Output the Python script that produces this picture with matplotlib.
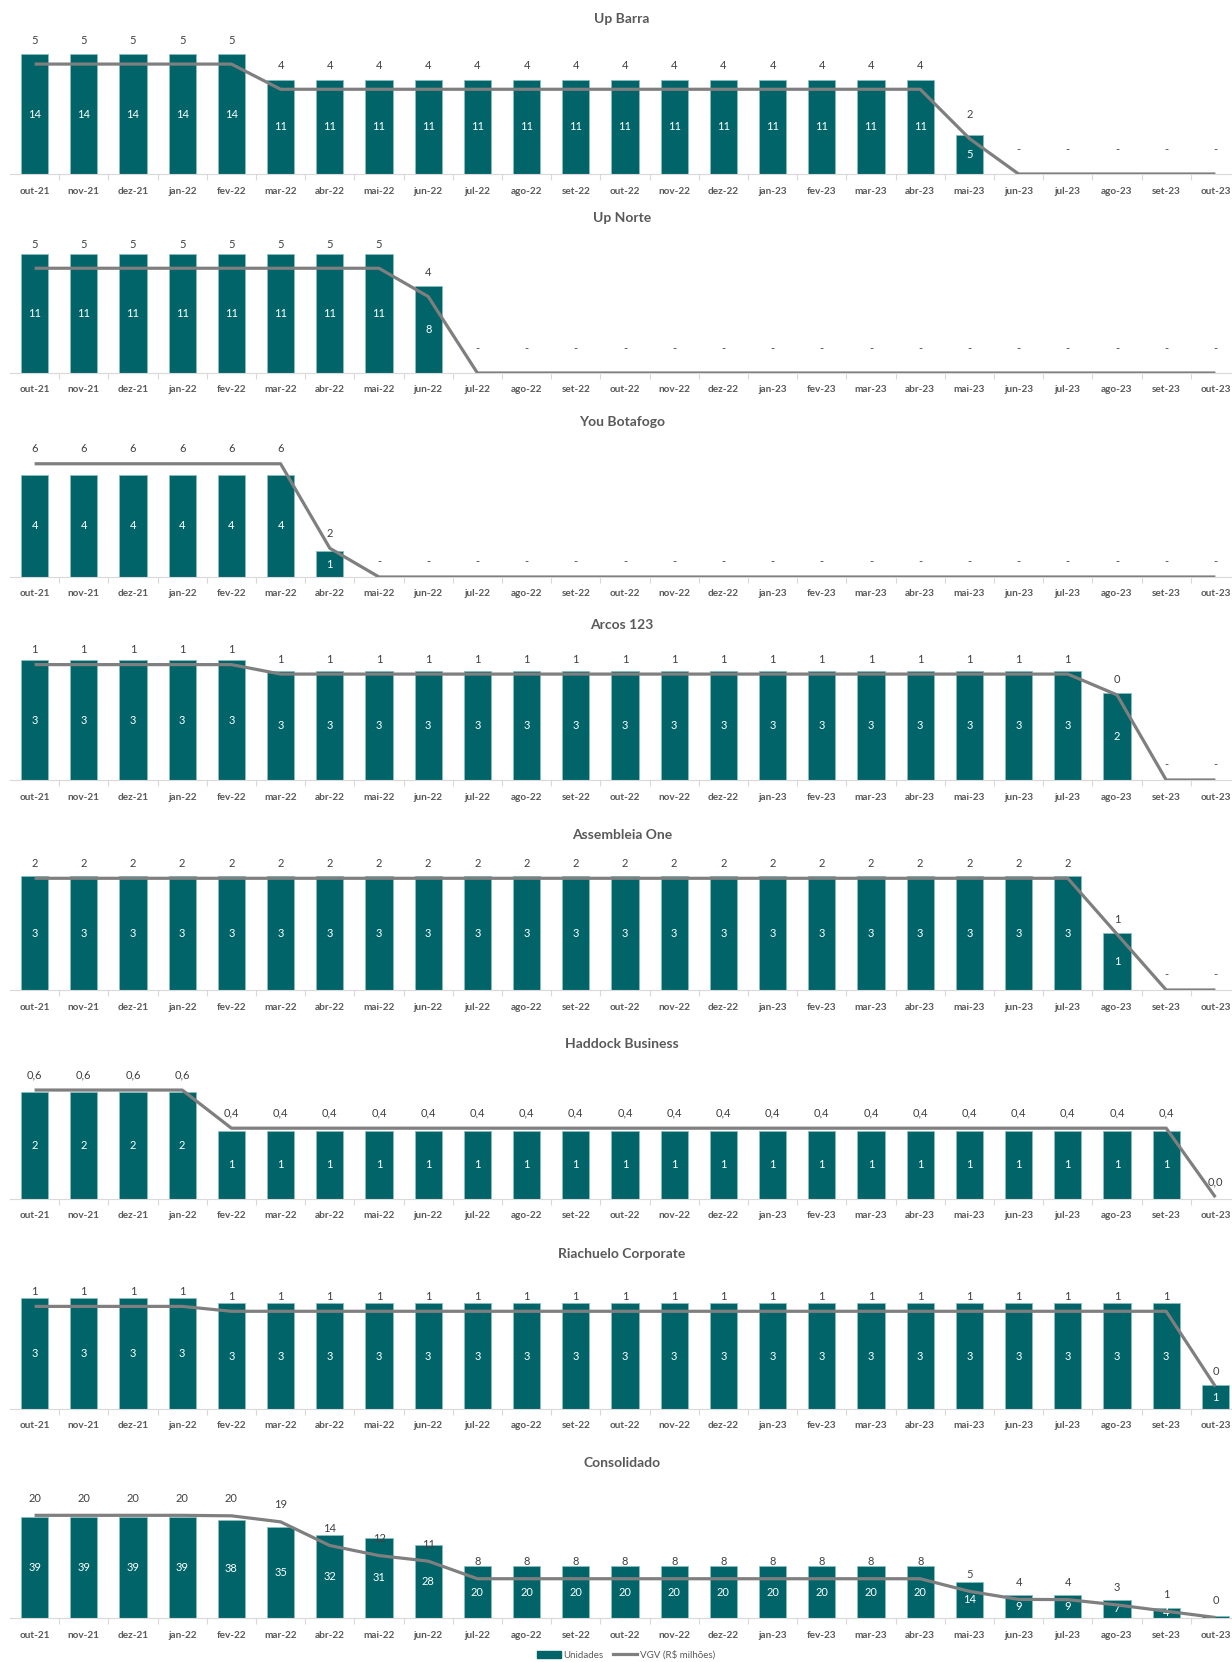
import matplotlib.pyplot as plt
from matplotlib.lines import Line2D
from matplotlib.patches import Patch

plt.rcParams["font.family"] = ["Lato", "DejaVu Sans"]

months = ["out-21", "nov-21", "dez-21", "jan-22", "fev-22", "mar-22", "abr-22", "mai-22", "jun-22",
          "jul-22", "ago-22", "set-22", "out-22", "nov-22", "dez-22", "jan-23", "fev-23", "mar-23",
          "abr-23", "mai-23", "jun-23", "jul-23", "ago-23", "set-23", "out-23"]

# unidades em estoque (barras) e VGV em R$ milhoes (linha)
up_barra_un = [14, 14, 14, 14, 14, 11, 11, 11, 11, 11, 11, 11, 11, 11, 11, 11, 11, 11, 11, 4.6, 0, 0, 0, 0, 0]
up_barra_vgv = [4.8, 4.8, 4.8, 4.8, 4.8, 3.7, 3.7, 3.7, 3.7, 3.7, 3.7, 3.7, 3.7, 3.7, 3.7, 3.7, 3.7, 3.7, 3.7,
                1.55, 0, 0, 0, 0, 0]

up_norte_un = [11, 11, 11, 11, 11, 11, 11, 11, 8, 0, 0, 0, 0, 0, 0, 0, 0, 0, 0, 0, 0, 0, 0, 0, 0]
up_norte_vgv = [5.0, 5.0, 5.0, 5.0, 5.0, 5.0, 5.0, 5.0, 3.65, 0, 0, 0, 0, 0, 0, 0, 0, 0, 0, 0, 0, 0, 0, 0, 0]

you_un = [4, 4, 4, 4, 4, 4, 1, 0, 0, 0, 0, 0, 0, 0, 0, 0, 0, 0, 0, 0, 0, 0, 0, 0, 0]
you_vgv = [6.1, 6.1, 6.1, 6.1, 6.1, 6.1, 1.55, 0, 0, 0, 0, 0, 0, 0, 0, 0, 0, 0, 0, 0, 0, 0, 0, 0, 0]

arcos_un = [3.3, 3.3, 3.3, 3.3, 3.3, 3.0, 3.0, 3.0, 3.0, 3.0, 3.0, 3.0, 3.0, 3.0, 3.0, 3.0, 3.0, 3.0, 3.0,
            3.0, 3.0, 3.0, 2.4, 0, 0]
arcos_vgv = [0.61, 0.61, 0.61, 0.61, 0.61, 0.56, 0.56, 0.56, 0.56, 0.56, 0.56, 0.56, 0.56, 0.56, 0.56, 0.56,
             0.56, 0.56, 0.56, 0.56, 0.56, 0.56, 0.45, 0, 0]

assembleia_un = [2.9, 2.9, 2.9, 2.9, 2.9, 2.9, 2.9, 2.9, 2.9, 2.9, 2.9, 2.9, 2.9, 2.9, 2.9, 2.9, 2.9, 2.9,
                 2.9, 2.9, 2.9, 2.9, 1.45, 0, 0]
assembleia_vgv = [1.8, 1.8, 1.8, 1.8, 1.8, 1.8, 1.8, 1.8, 1.8, 1.8, 1.8, 1.8, 1.8, 1.8, 1.8, 1.8, 1.8, 1.8,
                  1.8, 1.8, 1.8, 1.8, 0.9, 0, 0]

haddock_un = [2, 2, 2, 2, 1.27, 1.27, 1.27, 1.27, 1.27, 1.27, 1.27, 1.27, 1.27, 1.27, 1.27, 1.27, 1.27,
              1.27, 1.27, 1.27, 1.27, 1.27, 1.27, 1.27, 0]
haddock_vgv = [0.6, 0.6, 0.6, 0.6, 0.39, 0.39, 0.39, 0.39, 0.39, 0.39, 0.39, 0.39, 0.39, 0.39, 0.39, 0.39,
               0.39, 0.39, 0.39, 0.39, 0.39, 0.39, 0.39, 0.39, 0.01]

riachuelo_un = [3.14, 3.14, 3.14, 3.14, 3.0, 3.0, 3.0, 3.0, 3.0, 3.0, 3.0, 3.0, 3.0, 3.0, 3.0, 3.0, 3.0,
                3.0, 3.0, 3.0, 3.0, 3.0, 3.0, 3.0, 0.68]
riachuelo_vgv = [1.05, 1.05, 1.05, 1.05, 1.0, 1.0, 1.0, 1.0, 1.0, 1.0, 1.0, 1.0, 1.0, 1.0, 1.0, 1.0, 1.0,
                 1.0, 1.0, 1.0, 1.0, 1.0, 1.0, 1.0, 0.23]

consol_un = [39, 39, 39, 39, 38, 35, 32, 31, 28, 20, 20, 20, 20, 20, 20, 20, 20, 20, 20, 14, 9, 9, 7, 4, 0.6]
consol_vgv = [20.4, 20.4, 20.4, 20.4, 20.3, 19.1, 14.4, 12.4, 11.3, 7.8, 7.8, 7.8, 7.8, 7.8, 7.8, 7.8, 7.8,
              7.8, 7.8, 5.3, 3.7, 3.65, 2.6, 1.35, 0.1]

# titulo, unidades, vgv, casas decimais do VGV
panels = [
    ("Up Barra", up_barra_un, up_barra_vgv, 0),
    ("Up Norte", up_norte_un, up_norte_vgv, 0),
    ("You Botafogo", you_un, you_vgv, 0),
    ("Arcos 123", arcos_un, arcos_vgv, 0),
    ("Assembleia One", assembleia_un, assembleia_vgv, 0),
    ("Haddock Business", haddock_un, haddock_vgv, 1),
    ("Riachuelo Corporate", riachuelo_un, riachuelo_vgv, 0),
    ("Consolidado", consol_un, consol_vgv, 0),
]

# layout (pixels): baseline, topo das barras, topo da linha, distancia do rotulo
baselines = [174, 373, 577, 780, 990, 1199, 1409, 1618]
bar_tops = [17.5, 13.86, 5.86, 4.13, 3.816, 2.796, 4.26, 57.9]
line_tops = [6.55, 7.16, 8.08, 0.793, 2.417, 0.826, 1.535, 29.8]
label_pads = [24, 24, 15, 15, 15, 15, 15, 17]

W, H = 1232, 1662
AX_H = 150
teal = "#006468"
gray_line = "#7f7f7f"
txt_gray = "#595959"

fig = plt.figure(figsize=(W / 100, H / 100), dpi=100)
x = list(range(len(months)))

for i, (title, units, vgv, dec) in enumerate(panels):
    base = baselines[i]
    ax = fig.add_axes([10 / W, 1 - base / H, 1230 / W, AX_H / H])
    ax.set_xlim(-0.5, 24.5)
    ax.set_ylim(0, bar_tops[i])

    xs = [k for k in x if units[k] > 0]
    hs = [units[k] for k in xs]
    ax.bar(xs, hs, width=0.55, color=teal, edgecolor="#8cbcbe", linewidth=0.6, zorder=2)
    for k in xs:
        if units[k] / bar_tops[i] < 0.03:
            continue
        ax.text(k, units[k] / 2, f"{units[k]:.0f}", ha="center", va="center",
                color="white", fontsize=8, zorder=3)

    for s in ["left", "right", "top"]:
        ax.spines[s].set_visible(False)
    ax.spines["bottom"].set_color("#d9d9d9")
    ax.set_yticks([])
    ax.set_xticks(x)
    ax.set_xticklabels(months, fontsize=7.2, fontweight="bold", color=txt_gray)
    ax.tick_params(axis="x", length=0, pad=9)
    ax.set_xticks([k + 0.5 for k in x], minor=True)
    ax.tick_params(axis="x", which="minor", length=4, color="#d9d9d9", width=0.8)

    ax2 = ax.twinx()
    ax2.set_ylim(0, line_tops[i])
    ax2.plot(x, vgv, color=gray_line, lw=2.3, solid_capstyle="butt", zorder=4)
    ax2.set_yticks([])
    for s in ["left", "right", "top", "bottom"]:
        ax2.spines[s].set_visible(False)
    for k in x:
        v = vgv[k]
        lab = "-" if v == 0 else f"{v:.{dec}f}".replace(".", ",")
        ax2.annotate(lab, (k, v), xytext=(0, label_pads[i] * 0.72), textcoords="offset points",
                     ha="center", va="center", fontsize=8, color="#404040", annotation_clip=False)

    fig.text(622 / W, 1 - (base - 155) / H, title, ha="center", va="center",
             fontsize=10, fontweight="bold", color=txt_gray)

handles = [Patch(facecolor=teal, edgecolor=teal), Line2D([], [], color=gray_line, lw=2.3)]
fig.legend(handles, ["Unidades", "VGV (R$ milhões)"], loc="center", ncol=2, frameon=False,
           bbox_to_anchor=(626 / W, 1 - 1655 / H), fontsize=7, labelcolor=txt_gray,
           handlelength=2.4, columnspacing=1.0, handletextpad=0.3)

fig.savefig("out.png", dpi=100)
